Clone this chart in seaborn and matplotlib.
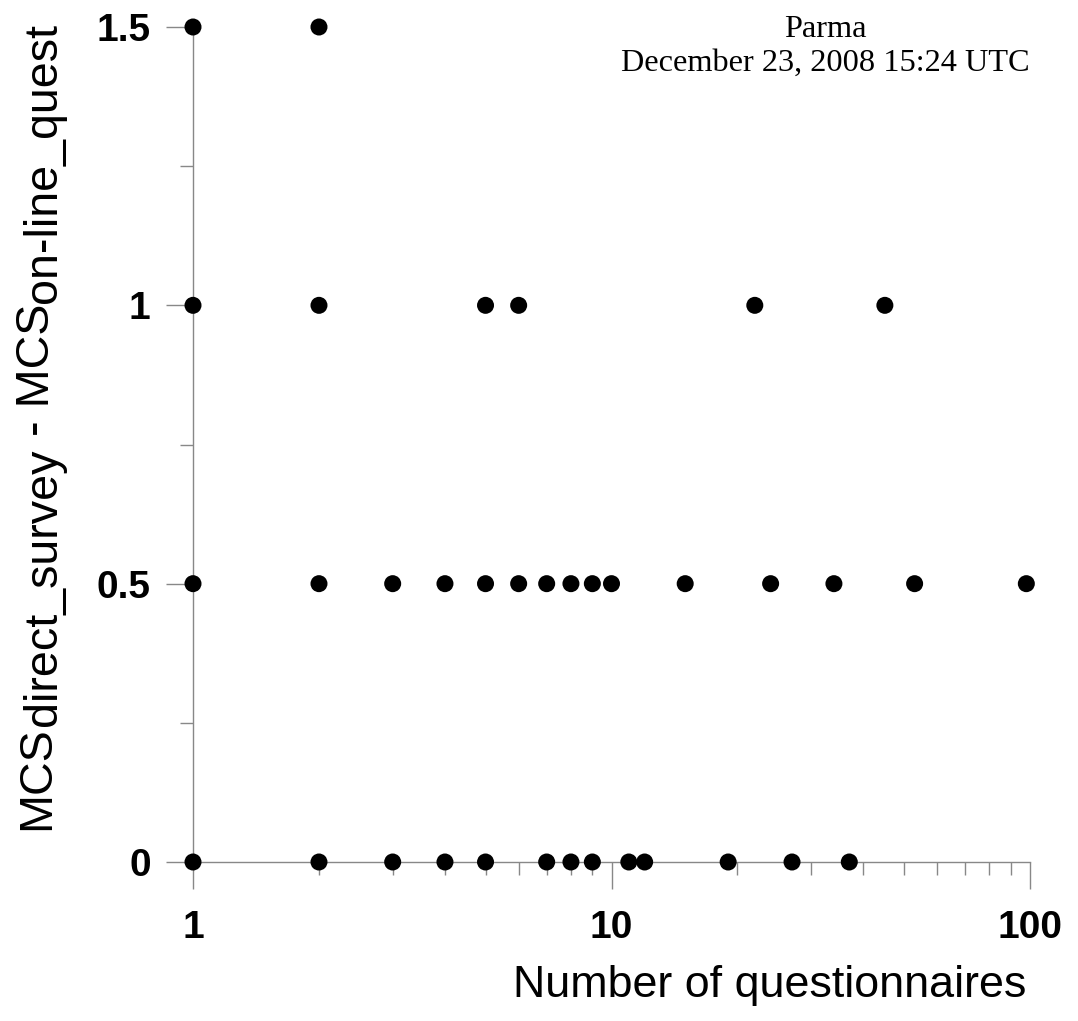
import matplotlib
matplotlib.use("Agg")
import matplotlib.pyplot as plt
import seaborn as sns
import pandas as pd
from matplotlib.transforms import offset_copy
from matplotlib.ticker import FixedLocator, NullFormatter, LogLocator

# ---- data ----
x_diff_15 = [1, 2]
x_diff_10 = [1, 2, 5, 6, 22, 45]
x_diff_05 = [1, 2, 3, 4, 5, 6, 7, 8, 9, 10, 15, 24, 34, 53, 98]
x_diff_00 = [1, 2, 3, 4, 5, 7, 8, 9, 11, 12, 19, 27, 37]
diff_levels = [1.5, 1.0, 0.5, 0.0]

y_ticks = [0, 0.5, 1, 1.5]
y_tick_labels = ["0", "0.5", "1", "1.5"]
y_minor_ticks = [0.25, 0.75, 1.25]
x_ticks = [1, 10, 100]
x_tick_labels = ["1", "10", "100"]

x_title = "Number of questionnaires"
y_title_parts = [("MCS", False), ("direct_survey", True), (" - MCS", False), ("on-line_quest", True)]
note_line1 = "Parma"
note_line2 = "December 23, 2008 15:24 UTC"

rows = []
for lvl, xs in zip(diff_levels, [x_diff_15, x_diff_10, x_diff_05, x_diff_00]):
    for v in xs:
        rows.append({"n": v, "diff": lvl})
df = pd.DataFrame(rows)

sns.set_theme(style="white")
plt.rcParams["font.family"] = ["Liberation Sans", "DejaVu Sans"]

W, H, DPI = 1078, 1021, 100
fig = plt.figure(figsize=(W / DPI, H / DPI), dpi=DPI)
ax = fig.add_axes([193 / W, 1 - 862 / H, (1030 - 193) / W, (862 - 27) / H])

sns.scatterplot(data=df, x="n", y="diff", ax=ax, color="black", s=150,
                edgecolor="none", linewidth=0, clip_on=False, zorder=3)

ax.set_xscale("log")
ax.set_xlim(1, 100)
ax.set_ylim(0, 1.5)

grey = "#888888"
for s in ["top", "right"]:
    ax.spines[s].set_visible(False)
for s in ["left", "bottom"]:
    ax.spines[s].set_color(grey)
    ax.spines[s].set_linewidth(1.0)

ax.xaxis.set_major_locator(FixedLocator(x_ticks))
ax.set_xticklabels(x_tick_labels)
ax.xaxis.set_minor_locator(LogLocator(base=10, subs=[2, 3, 4, 5, 6, 7, 8, 9]))
ax.xaxis.set_minor_formatter(NullFormatter())
ax.set_yticks(y_ticks)
ax.set_yticklabels(y_tick_labels)
ax.set_yticks(y_minor_ticks, minor=True)

ax.tick_params(axis="both", which="major", direction="out", length=19.5, width=1.0,
               color=grey, labelsize=28, bottom=True, left=True)
ax.tick_params(axis="both", which="minor", direction="out", length=9.5, width=1.0,
               color=grey, bottom=True, left=True)
ax.tick_params(axis="x", which="major", pad=15)
ax.tick_params(axis="y", which="major", pad=11)
for lab in ax.get_xticklabels() + ax.get_yticklabels():
    lab.set_fontweight("bold")
    lab.set_color("black")
ax.set_xlabel("")
ax.set_ylabel("")

# x title
fig.text(1026 / W, 1 - 997 / H, x_title, ha="right", va="baseline", fontsize=32.3, color="black")

# y title with lowered subscripts (same size)
fig.canvas.draw()
renderer = fig.canvas.get_renderer()
x0 = 49 / W
y0 = 1 - 830 / H
offset = 0.0
for txt, sub in y_title_parts:
    tr = offset_copy(fig.transFigure, fig=fig, x=7 if sub else 0, y=offset, units="dots")
    t = fig.text(x0, y0, txt, rotation=90, rotation_mode="anchor", ha="left",
                 va="baseline", fontsize=33.6, color="black", transform=tr)
    bb = t.get_window_extent(renderer)
    offset += bb.height

# note in upper right
fig.text(825 / W, 1 - 37 / H, note_line1, ha="center", va="baseline", fontsize=23.3,
         family=["Liberation Serif", "DejaVu Serif"], color="black")
fig.text(825 / W, 1 - 71 / H, note_line2, ha="center", va="baseline", fontsize=23.3,
         family=["Liberation Serif", "DejaVu Serif"], color="black")

fig.savefig("out.png", dpi=DPI, facecolor="white")
